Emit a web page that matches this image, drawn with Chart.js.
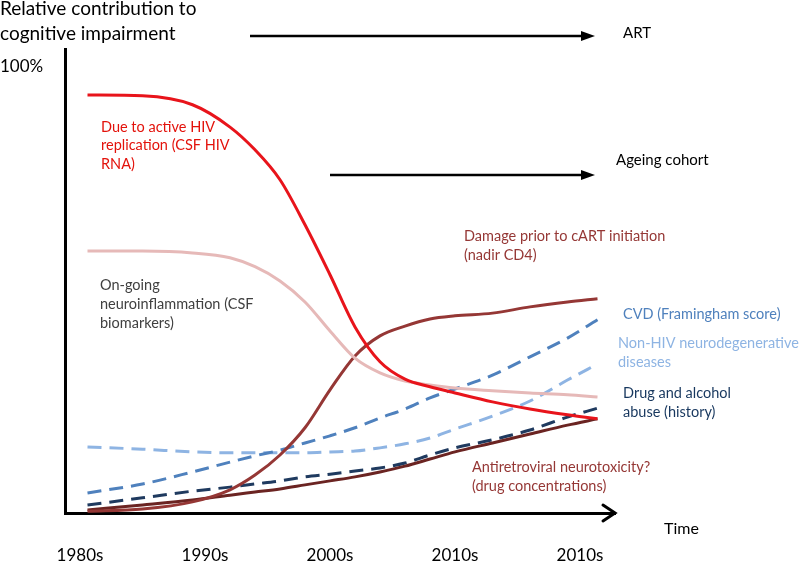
<!DOCTYPE html>
<html>
<head>
<meta charset="utf-8">
<script src="https://cdn.jsdelivr.net/npm/chart.js@4.4.1/dist/chart.umd.min.js"></script>
<style>
  html, body { margin: 0; padding: 0; background: #fff; }
  #wrap { width: 799px; height: 563px; }
</style>
</head>
<body>
<div id="wrap"><canvas id="cogChart" width="799" height="563"></canvas></div>
<script>
// time axis: 0 = 1980s, 1 = 1990s ... (decade positions)
var years = [0.06, 0.5, 0.9, 1.2, 1.4, 1.6, 1.8, 2.0, 2.2, 2.4, 2.6, 2.8, 3.0, 3.3, 3.6, 3.9, 4.14];
var decadeLabels = ['1980s', '1990s', '2000s', '2010s', '2010s'];
var yTickLabel = '100%';

// relative contribution (% of axis)
var hivReplication    = [93.7, 93.5, 91.5, 86.5, 81.4, 74.7, 64.6, 53.4, 41.7, 33.9, 30.0, 28.3, 26.9, 24.9, 23.3, 22.0, 21.1];
var neuroinflammation = [58.7, 58.7, 58.3, 57.2, 55.2, 52.0, 47.3, 40.8, 34.7, 31.4, 29.6, 28.7, 28.0, 27.4, 26.9, 26.5, 26.0];
var priorDamage       = [0.4, 0.9, 2.5, 5.2, 8.5, 13.0, 19.1, 27.6, 35.2, 39.7, 41.9, 43.5, 44.2, 44.8, 46.2, 47.3, 48.0];
var cvd               = [4.5, 6.5, 9.2, 11.4, 12.8, 14.1, 15.7, 17.3, 19.1, 21.3, 23.3, 25.8, 27.8, 30.9, 35.0, 39.2, 43.3];
var neurodegenerative = [14.8, 14.3, 13.7, 13.5, 13.5, 13.5, 13.5, 13.7, 13.9, 14.6, 15.5, 16.8, 18.8, 21.7, 25.1, 29.8, 33.4];
var drugAlcohol       = [1.8, 3.4, 4.9, 5.8, 6.5, 7.2, 8.1, 8.7, 9.4, 10.1, 11.2, 13.0, 14.6, 16.4, 18.6, 21.5, 23.5];
var arvToxicity       = [0.7, 1.8, 2.9, 4.0, 4.7, 5.4, 6.3, 7.2, 8.1, 9.2, 10.5, 12.1, 13.7, 15.7, 17.7, 19.7, 21.1];

var FONT = 'Lato, "Open Sans", sans-serif';

function pts(vals) {
    return years.map(function (t, i) { return { x: t, y: vals[i] }; });
}

function line(label, vals, color, dashed) {
    return {
        label: label,
        data: pts(vals),
        borderColor: color,
        borderWidth: 3,
        borderDash: dashed ? [14, 8] : [],
        pointRadius: 0,
        fill: false,
        cubicInterpolationMode: 'monotone'
    };
}

// text + arrows around the plot
var notes = [
    { lines: ['Relative contribution to', 'cognitive impairment'], x: 0, y: 9, color: '#000', size: 19, gap: 25 },
    { lines: ['Due to active HIV', 'replication (CSF HIV', 'RNA)'], x: 101, y: 127, color: '#e3120b', size: 14.5, gap: 18.5 },
    { lines: ['On-going', 'neuroinflammation (CSF', 'biomarkers)'], x: 100, y: 285, color: '#404040', size: 14.5, gap: 19 },
    { lines: ['Damage prior to cART initiation', '(nadir CD4)'], x: 464, y: 236, color: '#953735', size: 14.5, gap: 19 },
    { lines: ['CVD (Framingham score)'], x: 623, y: 314, color: '#4f81bd', size: 14.5, gap: 19 },
    { lines: ['Non-HIV neurodegenerative', 'diseases'], x: 618, y: 343, color: '#8eb4e3', size: 14.5, gap: 19 },
    { lines: ['Drug and alcohol', 'abuse (history)'], x: 623, y: 393, color: '#17375e', size: 14.5, gap: 19.5 },
    { lines: ['Antiretroviral neurotoxicity?', '(drug concentrations)'], x: 472, y: 467, color: '#953735', size: 14.5, gap: 19 },
    { lines: ['Time'], x: 664, y: 529, color: '#000', size: 16, gap: 19 },
    { lines: ['ART'], x: 623, y: 33, color: '#000', size: 15, gap: 19 },
    { lines: ['Ageing cohort'], x: 616, y: 160, color: '#000', size: 15, gap: 19 }
];
var arrows = [
    { from: 1.36, to: 4.12, y: 36 },
    { from: 2.0, to: 4.12, y: 175 }
];

var decorPlugin = {
    id: 'decor',
    afterDraw: function (chart) {
        var c = chart.ctx, xs = chart.scales.x, area = chart.chartArea;
        c.save();
        // x-axis arrow head
        c.strokeStyle = '#000';
        c.lineWidth = 3;
        c.lineCap = 'round';
        c.lineJoin = 'miter';
        c.beginPath();
        c.moveTo(area.right - 12, area.bottom - 8);
        c.lineTo(area.right, area.bottom);
        c.lineTo(area.right - 12, area.bottom + 8);
        c.stroke();
        // ART / ageing arrows
        arrows.forEach(function (a) {
            var x0 = xs.getPixelForValue(a.from), x1 = xs.getPixelForValue(a.to);
            c.lineWidth = 2.5;
            c.lineCap = 'butt';
            c.beginPath();
            c.moveTo(x0, a.y);
            c.lineTo(x1 - 10, a.y);
            c.stroke();
            c.fillStyle = '#000';
            c.beginPath();
            c.moveTo(x1, a.y);
            c.lineTo(x1 - 14, a.y - 5);
            c.lineTo(x1 - 14, a.y + 5);
            c.closePath();
            c.fill();
        });
        // annotations
        c.textBaseline = 'middle';
        c.textAlign = 'left';
        notes.forEach(function (n) {
            c.fillStyle = n.color;
            c.font = n.size + 'px ' + FONT;
            n.lines.forEach(function (s, i) {
                c.fillText(s, n.x, n.y + i * n.gap);
            });
        });
        c.restore();
    }
};

var ctx = document.getElementById('cogChart').getContext('2d');
var chart = new Chart(ctx, {
    type: 'line',
    data: {
        datasets: [
            line('Due to active HIV replication', hivReplication, '#e8141b', false),
            line('On-going neuroinflammation', neuroinflammation, '#e6b9b8', false),
            line('Damage prior to cART initiation', priorDamage, '#953735', false),
            line('CVD', cvd, '#4f81bd', true),
            line('Non-HIV neurodegenerative diseases', neurodegenerative, '#8eb4e3', true),
            line('Antiretroviral neurotoxicity', arvToxicity, '#6b2422', false),
            line('Drug and alcohol abuse', drugAlcohol, '#1f3a5f', true)
        ]
    },
    options: {
        responsive: false,
        animation: false,
        layout: { padding: { top: 49, right: 184, left: 0, bottom: 0 } },
        plugins: {
            legend: { display: false },
            tooltip: { enabled: false }
        },
        scales: {
            x: {
                type: 'linear',
                min: -0.12,
                max: 4.28,
                grid: { display: false, drawTicks: false },
                border: { display: true, color: '#000', width: 3 },
                afterBuildTicks: function (axis) {
                    axis.ticks = decadeLabels.map(function (l, i) { return { value: i }; });
                },
                afterFit: function (axis) { axis.height = 50; },
                ticks: {
                    padding: 32,
                    color: '#000',
                    font: { family: FONT, size: 17 },
                    maxRotation: 0,
                    autoSkip: false,
                    callback: function (v, i) { return decadeLabels[i]; }
                }
            },
            y: {
                type: 'linear',
                min: 0,
                max: 104,
                grid: { display: false, drawTicks: false },
                border: { display: true, color: '#000', width: 3 },
                afterBuildTicks: function (axis) { axis.ticks = [{ value: 100 }]; },
                afterFit: function (axis) { axis.width = 65; },
                ticks: {
                    crossAlign: 'far',
                    color: '#000',
                    font: { family: FONT, size: 17 },
                    callback: function () { return yTickLabel; }
                }
            }
        }
    },
    plugins: [decorPlugin]
});
</script>
</body>
</html>
